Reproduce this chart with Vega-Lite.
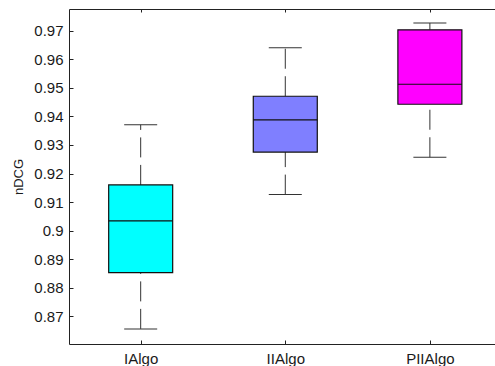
{
  "$schema": "https://vega.github.io/schema/vega-lite/v6.json",
  "autosize": {"type": "none"},
  "padding": {"left": 69, "top": 9, "right": 0, "bottom": 22},
  "width": 426,
  "height": 335,
  "background": "white",
  "config": {
    "view": {"stroke": "#222", "strokeWidth": 1},
    "font": "Liberation Sans",
    "axis": {"domain": false, "grid": false, "labelFont": "Liberation Sans", "labelColor": "#1a1a1a", "tickColor": "#222", "labelOverlap": false}
  },
  "data": {
    "values": [
      {"algo": "IAlgo", "min": 0.8655, "q1": 0.8852, "median": 0.9034, "q3": 0.916, "max": 0.9371},
      {"algo": "IIAlgo", "min": 0.9126, "q1": 0.9275, "median": 0.9388, "q3": 0.9471, "max": 0.9641},
      {"algo": "PIIAlgo", "min": 0.9257, "q1": 0.9443, "median": 0.9513, "q3": 0.9704, "max": 0.9728}
    ]
  },
  "encoding": {
    "x": {
      "field": "algo", "type": "nominal", "sort": null, "axis": null,
      "scale": {"type": "point", "padding": 0.473, "align": 0.524}
    },
    "y": {
      "field": "min", "type": "quantitative",
      "scale": {"domain": [0.8602, 0.9777], "nice": false, "zero": false},
      "axis": {"title": "nDCG", "titleFontSize": 13, "titleFontWeight": "normal", "titleColor": "#1a1a1a", "titlePadding": 8,
        "values": [0.87, 0.88, 0.89, 0.9, 0.91, 0.92, 0.93, 0.94, 0.95, 0.96, 0.97], "format": "~g",
        "labelOverlap": false, "labelFontSize": 15, "tickSize": -4, "labelPadding": 10}
    }
  },
  "layer": [
    {
      "mark": {"type": "rule", "color": "#333", "strokeWidth": 1, "strokeDash": [20, 7.5]},
      "encoding": {
        "x": {"field": "algo", "type": "nominal", "sort": null, "axis": {"title": null, "labelAngle": 0, "labelFontSize": 15, "tickSize": -4, "labelPadding": 11, "orient": "bottom"}},
        "y2": {"field": "q1"}
      }
    },
    {
      "mark": {"type": "rule", "color": "#333", "strokeWidth": 1, "strokeDash": [20, 7.5]},
      "encoding": {
        "y": {"field": "q3", "type": "quantitative"},
        "y2": {"field": "max"}
      }
    },
    {
      "mark": {"type": "bar", "size": 64, "stroke": "#111", "strokeWidth": 1.2, "opacity": 1},
      "encoding": {
        "y": {"field": "q1", "type": "quantitative"},
        "y2": {"field": "q3"},
        "color": {"field": "algo", "type": "nominal", "sort": null, "legend": null,
          "scale": {"domain": ["IAlgo", "IIAlgo", "PIIAlgo"], "range": ["#00ffff", "#7f7fff", "#ff00ff"]}}
      }
    },
    {
      "mark": {"type": "tick", "size": 64, "thickness": 1.2, "color": "#111", "opacity": 1},
      "encoding": {"y": {"field": "median", "type": "quantitative"}}
    },
    {
      "mark": {"type": "tick", "size": 33, "thickness": 1, "color": "#333", "opacity": 1},
      "encoding": {"y": {"field": "max", "type": "quantitative"}}
    },
    {
      "mark": {"type": "tick", "size": 33, "thickness": 1, "color": "#333", "opacity": 1},
      "encoding": {
        "x": {"field": "algo", "type": "nominal", "sort": null, "axis": {"orient": "top", "title": null, "labels": false, "tickSize": -3}}
      }
    }
  ],
  "resolve": {"axis": {"x": "independent"}}
}
